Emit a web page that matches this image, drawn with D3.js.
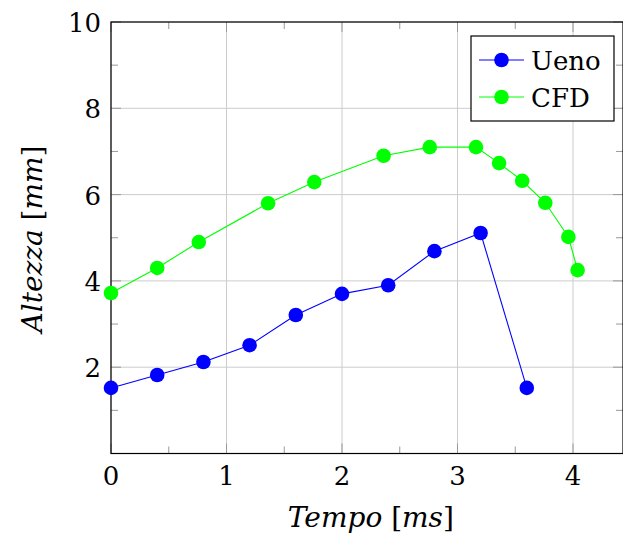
<!DOCTYPE html>
<html>
<head>
<meta charset="utf-8">
<script src="https://cdn.jsdelivr.net/npm/d3@7"></script>
<style>
  body { margin: 0; background: #fff; }
</style>
</head>
<body>
<div id="chart"></div>
<script>
// data
var uenoX = [0, 0.4, 0.8, 1.2, 1.6, 2.0, 2.4, 2.8, 3.2, 3.6];
var uenoY = [1.52, 1.82, 2.12, 2.51, 3.21, 3.7, 3.9, 4.69, 5.11, 1.52];
var cfdX = [0, 0.4, 0.76, 1.36, 1.76, 2.36, 2.76, 3.16, 3.36, 3.56, 3.76, 3.96, 4.04];
var cfdY = [3.72, 4.3, 4.9, 5.8, 6.29, 6.9, 7.1, 7.1, 6.73, 6.32, 5.81, 5.02, 4.25];
var xTicks = [0, 1, 2, 3, 4];
var yTicks = [2, 4, 6, 8, 10];
var xMinor = [0.5, 1.5, 2.5, 3.5];
var yMinor = [1, 3, 5, 7, 9];

var FONT = "'DejaVu Serif', serif";

var svgWidth = 623;
var svgHeight = 542;
var margin = { top: 22, right: 0, bottom: 88.5, left: 111 };
var width = svgWidth - margin.left - margin.right;
var height = svgHeight - margin.top - margin.bottom;

var svg = d3.select("#chart")
  .append("svg")
  .attr("width", svgWidth)
  .attr("height", svgHeight)
  .attr("font-family", FONT);

var chartGroup = svg.append("g")
  .attr("transform", `translate(${margin.left}, ${margin.top})`);

var x = d3.scaleLinear().domain([0, width / 115.5]).range([0, width]);
var y = d3.scaleLinear().domain([0, 10]).range([height, 0]);

// grid
chartGroup.append("g")
  .selectAll("line")
  .data(xTicks)
  .enter()
  .append("line")
  .attr("x1", d => x(d)).attr("x2", d => x(d))
  .attr("y1", 0).attr("y2", height)
  .attr("stroke", "#cccccc").attr("stroke-width", 1);
chartGroup.append("g")
  .selectAll("line")
  .data(yTicks)
  .enter()
  .append("line")
  .attr("x1", 0).attr("x2", width)
  .attr("y1", d => y(d)).attr("y2", d => y(d))
  .attr("stroke", "#cccccc").attr("stroke-width", 1);

// inward ticks on all four sides
var tickG = chartGroup.append("g").attr("stroke", "#999").attr("stroke-width", 1);
function xTick(vals, len) {
  vals.forEach(function(v) {
    tickG.append("line").attr("x1", x(v)).attr("x2", x(v)).attr("y1", height).attr("y2", height - len);
    tickG.append("line").attr("x1", x(v)).attr("x2", x(v)).attr("y1", 0).attr("y2", len);
  });
}
function yTick(vals, len) {
  vals.forEach(function(v) {
    tickG.append("line").attr("y1", y(v)).attr("y2", y(v)).attr("x1", 0).attr("x2", len);
    tickG.append("line").attr("y1", y(v)).attr("y2", y(v)).attr("x1", width).attr("x2", width - len);
  });
}
xTick(xTicks, 10);
xTick(xMinor, 7);
yTick(yTicks, 10);
yTick(yMinor, 7);

// frame
chartGroup.append("rect")
  .attr("x", 0).attr("y", 0)
  .attr("width", width).attr("height", height)
  .attr("fill", "none").attr("stroke", "#000").attr("stroke-width", 1.2);

// tick labels
chartGroup.selectAll("text.xl")
  .data(xTicks)
  .enter()
  .append("text")
  .attr("x", d => x(d))
  .attr("y", height + 31)
  .attr("text-anchor", "middle")
  .attr("font-size", 26)
  .text(d => d);
chartGroup.selectAll("text.yl")
  .data(yTicks)
  .enter()
  .append("text")
  .attr("x", -10)
  .attr("y", d => y(d) + 10)
  .attr("text-anchor", "end")
  .attr("font-size", 26)
  .text(d => d);

// series
var series = [
  { name: "Ueno", xs: uenoX, ys: uenoY, color: "#0000ff" },
  { name: "CFD", xs: cfdX, ys: cfdY, color: "#00ff00" }
];
var line = d3.line().x(d => x(d[0])).y(d => y(d[1]));

series.forEach(function(s) {
  var pts = s.xs.map((v, i) => [v, s.ys[i]]);
  chartGroup.append("path")
    .datum(pts)
    .attr("d", line)
    .attr("fill", "none")
    .attr("stroke", s.color)
    .attr("stroke-width", 1.1);
  chartGroup.selectAll(null)
    .data(pts)
    .enter()
    .append("circle")
    .attr("cx", d => x(d[0]))
    .attr("cy", d => y(d[1]))
    .attr("r", 7.3)
    .attr("fill", s.color);
});

// legend
var legend = svg.append("g").attr("transform", "translate(471, 36)");
legend.append("rect")
  .attr("width", 143).attr("height", 85)
  .attr("fill", "#fff").attr("stroke", "#000").attr("stroke-width", 1.2);
series.forEach(function(s, i) {
  var ly = 24 + i * 37;
  legend.append("line")
    .attr("x1", 8).attr("x2", 53)
    .attr("y1", ly).attr("y2", ly)
    .attr("stroke", s.color).attr("stroke-width", 1.1);
  legend.append("circle")
    .attr("cx", 30.5).attr("cy", ly).attr("r", 7.3)
    .attr("fill", s.color);
  legend.append("text")
    .attr("x", 60).attr("y", ly + 10)
    .attr("font-size", 26)
    .text(s.name);
});

// axis labels
var xLab = svg.append("text")
  .attr("x", margin.left + x(2.25))
  .attr("y", 527)
  .attr("text-anchor", "middle")
  .attr("font-size", 28);
xLab.append("tspan").attr("font-style", "italic").text("Tempo");
xLab.append("tspan").text(" [");
xLab.append("tspan").attr("font-style", "italic").text("ms");
xLab.append("tspan").text("]");

var yLab = svg.append("text")
  .attr("transform", `translate(42, 239) rotate(-90)`)
  .attr("text-anchor", "middle")
  .attr("font-size", 28);
yLab.append("tspan").attr("font-style", "italic").text("Altezza");
yLab.append("tspan").text(" [");
yLab.append("tspan").attr("font-style", "italic").text("mm");
yLab.append("tspan").text("]");
</script>
</body>
</html>
